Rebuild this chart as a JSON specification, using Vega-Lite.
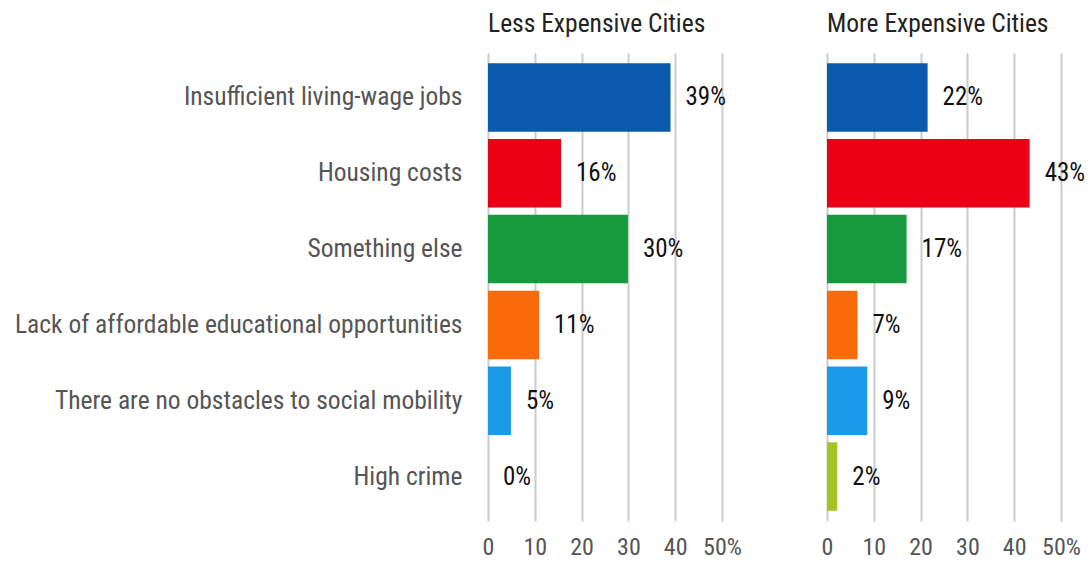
{
  "$schema": "https://vega.github.io/schema/vega-lite/v6.json",
  "background": "white",
  "padding": {"left": 14, "top": 11, "right": 0, "bottom": 0},
  "config": {
    "font": "Roboto Condensed, Liberation Sans Narrow, Roboto",
    "view": {"stroke": null},
    "title": {"anchor": "start", "frame": "group", "fontSize": 25.5, "fontWeight": "normal", "color": "#222", "offset": 16}
  },
  "data": {
    "values": [
      {"cause": "Insufficient living-wage jobs", "group": "Less", "value": 39, "label": "39%"},
      {"cause": "Housing costs", "group": "Less", "value": 15.6, "label": "16%"},
      {"cause": "Something else", "group": "Less", "value": 29.9, "label": "30%"},
      {"cause": "Lack of affordable educational opportunities", "group": "Less", "value": 10.9, "label": "11%"},
      {"cause": "There are no obstacles to social mobility ", "group": "Less", "value": 4.9, "label": "5%"},
      {"cause": "High crime", "group": "Less", "value": 0, "label": "0%"},
      {"cause": "Insufficient living-wage jobs", "group": "More", "value": 21.5, "label": "22%"},
      {"cause": "Housing costs", "group": "More", "value": 43.3, "label": "43%"},
      {"cause": "Something else", "group": "More", "value": 17, "label": "17%"},
      {"cause": "Lack of affordable educational opportunities", "group": "More", "value": 6.5, "label": "7%"},
      {"cause": "There are no obstacles to social mobility ", "group": "More", "value": 8.6, "label": "9%"},
      {"cause": "High crime", "group": "More", "value": 2.2, "label": "2%"}
    ]
  },
  "hconcat": [
    {
      "title": "Less Expensive Cities",
      "width": 234,
      "height": 468,
      "transform": [{"filter": "datum.group == 'Less'"}],
      "encoding": {
        "y": {"field": "cause", "type": "nominal", "sort": null,
          "scale": {"paddingInner": 0.096, "paddingOuter": 0.135},
          "axis": {"title": null, "domain": false, "ticks": false, "labelFontSize": 25.5, "labelColor": "#555", "labelPadding": 26, "labelLimit": 600}},
        "x": {"field": "value", "type": "quantitative", "scale": {"domain": [0, 50], "nice": false},
          "axis": {"title": null, "values": [0, 10, 20, 30, 40, 50], "grid": true, "gridColor": "#ccc", "gridWidth": 2, "domain": false, "ticks": false,
            "labelFontSize": 24, "labelColor": "#555", "labelPadding": 14, "labelFlush": false, "labelExpr": "datum.value == 50 ? '50%' : datum.value",
            "encode": {"labels": {"update": {"dx": {"signal": "datum.value == 50 ? 3 : 0"}}}}}}
      },
      "layer": [
        {"mark": {"type": "bar"},
         "encoding": {"color": {"field": "cause", "type": "nominal", "legend": null,
           "scale": {"domain": ["Insufficient living-wage jobs", "Housing costs", "Something else", "Lack of affordable educational opportunities", "There are no obstacles to social mobility ", "High crime"],
                     "range": ["#0a5aae", "#e90016", "#169a3e", "#f96a0b", "#1b9aea", "#a3c422"]}}}},
        {"mark": {"type": "text", "align": "left", "baseline": "middle", "dx": 15, "fontSize": 25, "color": "#111"},
         "encoding": {"text": {"field": "label"}}}
      ]
    },
    {
      "title": "More Expensive Cities",
      "width": 234,
      "height": 468,
      "transform": [{"filter": "datum.group == 'More'"}],
      "encoding": {
        "y": {"field": "cause", "type": "nominal", "sort": null,
          "scale": {"paddingInner": 0.096, "paddingOuter": 0.135},
          "axis": null},
        "x": {"field": "value", "type": "quantitative", "scale": {"domain": [0, 50], "nice": false},
          "axis": {"title": null, "values": [0, 10, 20, 30, 40, 50], "grid": true, "gridColor": "#ccc", "gridWidth": 2, "domain": false, "ticks": false,
            "labelFontSize": 24, "labelColor": "#555", "labelPadding": 14, "labelFlush": false, "labelExpr": "datum.value == 50 ? '50%' : datum.value",
            "encode": {"labels": {"update": {"dx": {"signal": "datum.value == 50 ? 3 : 0"}}}}}}
      },
      "layer": [
        {"mark": {"type": "bar"},
         "encoding": {"color": {"field": "cause", "type": "nominal", "legend": null,
           "scale": {"domain": ["Insufficient living-wage jobs", "Housing costs", "Something else", "Lack of affordable educational opportunities", "There are no obstacles to social mobility ", "High crime"],
                     "range": ["#0a5aae", "#e90016", "#169a3e", "#f96a0b", "#1b9aea", "#a3c422"]}}}},
        {"mark": {"type": "text", "align": "left", "baseline": "middle", "dx": 15, "fontSize": 25, "color": "#111"},
         "encoding": {"text": {"field": "label"}}}
      ]
    }
  ],
  "spacing": 79
}
